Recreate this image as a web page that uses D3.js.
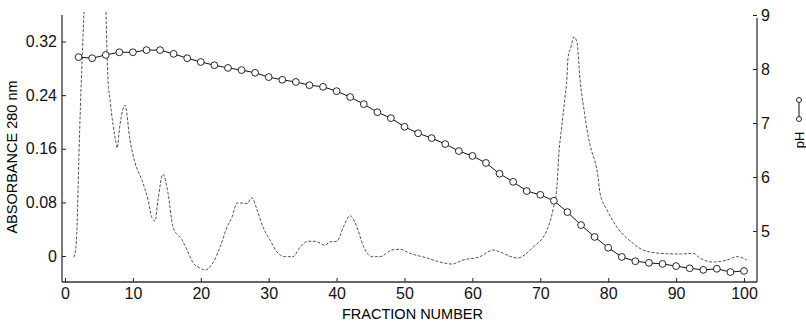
<!DOCTYPE html>
<html>
<head>
<meta charset="utf-8">
<script src="https://cdn.jsdelivr.net/npm/d3@7"></script>
<style>
  body { margin: 0; background: #fff; }
  svg { font-family: "Liberation Sans", Arial, sans-serif; }
  .axis text { font-size: 16px; fill: #111; }
  .axis line { stroke: #222; }
  .absLine { fill: none; stroke: #555; stroke-width: 1; stroke-dasharray: 3 1.6; }
  .phLine { fill: none; stroke: #111; stroke-width: 1; }
  .phDot { fill: #fff; stroke: #111; stroke-width: 0.9; }
</style>
</head>
<body>
<div id="chartdiv"></div>
<script>
//absorbance trace, null = off-scale gap at the top
var absFraction = [1.3, 1.6, 1.85, 1.95, 2.8, 4.4, 6.04, 6.33, 6.63, 7.07, 7.51, 7.66, 8.1, 8.84, 9.57,
  10.31, 11.34, 12.22, 12.81, 13.25, 13.7, 14.43, 15.17, 15.91, 17.23, 17.97, 18.85, 19.88, 20.62,
  21.8, 22.83, 23.86, 24.59, 25.33, 26.07, 26.8, 27.54, 28.28, 29.16, 30.19, 31.22, 32.4, 33.58,
  34.61, 35.79, 36.82, 38.29, 39.03, 40.06, 40.94, 41.97, 43.0, 43.89, 45.21, 46.39, 48.16, 49.34,
  50.81, 53.31, 55.23, 57.0, 58.62, 61.12, 63.03, 64.06, 66.57, 68.92, 70.99, 71.87, 72.46, 72.75,
  73.05, 73.34, 73.64, 73.93, 74.08, 74.52, 74.96, 75.4, 75.85, 76.44, 76.88, 77.32, 78.5, 78.79,
  79.82, 81.3, 83.65, 85.13, 87.6, 90.6, 92.5, 93.5, 95.4, 97.5, 99.0, 100.4];
var absValue = [-0.002, 0.012, 0.069, 0.11, 0.364, null, 0.364, 0.263, 0.233, 0.196, 0.169, 0.161, 0.196, 0.225, 0.173,
  0.139, 0.113, 0.084, 0.057, 0.052, 0.084, 0.122, 0.094, 0.043, 0.024, 0.009, -0.01, -0.018, -0.021,
  -0.01, 0.013, 0.043, 0.058, 0.079, 0.079, 0.078, 0.087, 0.069, 0.043, 0.024, 0.006, -0.001, -0.001,
  0.013, 0.022, 0.022, 0.016, 0.021, 0.022, 0.042, 0.06, 0.043, 0.016, -0.001, -0.001, 0.009, 0.01,
  0.004, -0.003, -0.009, -0.012, -0.006, -0.001, 0.009, 0.006, -0.003, 0.013, 0.039, 0.069, 0.106, 0.155,
  0.184, 0.21, 0.237, 0.267, 0.296, 0.312, 0.327, 0.319, 0.263, 0.218, 0.188, 0.166, 0.118, 0.094,
  0.069, 0.043, 0.019, 0.009, 0.004, 0.003, 0.004, -0.003, -0.009, -0.006, -0.001, -0.006];

//pH readings, every second fraction
var phFraction = [2, 4, 6, 8, 10, 12, 14, 16, 18, 20, 22, 24, 26, 28, 30, 32, 34, 36, 38, 40,
  42, 44, 46, 48, 50, 52, 54, 56, 58, 60, 62, 64, 66, 68, 70, 72, 74, 76, 78, 80,
  82, 84, 86, 88, 90, 92, 94, 96, 98, 100];
var phValue = [8.22, 8.2, 8.26, 8.31, 8.31, 8.35, 8.35, 8.28, 8.2, 8.13, 8.07, 8.02, 7.98, 7.93, 7.85, 7.8, 7.76, 7.7, 7.67, 7.59,
  7.48, 7.35, 7.2, 7.09, 6.93, 6.81, 6.72, 6.61, 6.48, 6.39, 6.26, 6.06, 5.91, 5.74, 5.67, 5.56, 5.35, 5.11, 4.89, 4.69,
  4.52, 4.44, 4.41, 4.39, 4.35, 4.31, 4.28, 4.3, 4.24, 4.26];

//tick labels
var fractionTicks = [0, 10, 20, 30, 40, 50, 60, 70, 80, 90, 100];
var absTicks = [0, 0.08, 0.16, 0.24, 0.32];
var phTicks = [5, 6, 7, 8, 9];

window.onload = setChart();

function setChart(){
  var width = 806, height = 321;
  //plot frame edges
  var frame = {left: 62, right: 757, top: 15, bottom: 282};

  var svg = d3.select("#chartdiv")
      .append("svg")
      .attr("width", width)
      .attr("height", height);

  var x = d3.scaleLinear().domain([0, 100]).range([65, 744]);
  var yAbs = d3.scaleLinear().domain([0, 0.32]).range([256, 41.5]);
  var yPh = d3.scaleLinear().domain([5, 9]).range([231, 15]);

  //frame lines
  svg.append("g").selectAll("line")
      .data([
        [frame.left, frame.top, frame.left, frame.bottom],
        [frame.left, frame.bottom, frame.right, frame.bottom],
        [frame.right, frame.top + 3, frame.right, frame.bottom]
      ])
      .enter()
      .append("line")
      .attr("x1", function(d){ return d[0]; })
      .attr("y1", function(d){ return d[1]; })
      .attr("x2", function(d){ return d[2]; })
      .attr("y2", function(d){ return d[3]; })
      .attr("stroke", "#333")
      .attr("stroke-width", 1.3);

  //axes, ticks point inward
  var xAxis = svg.append("g")
      .attr("class", "axis")
      .attr("transform", "translate(0," + frame.bottom + ")")
      .call(d3.axisBottom(x).tickValues(fractionTicks).tickSize(-4).tickPadding(6));

  var leftAxis = svg.append("g")
      .attr("class", "axis")
      .attr("transform", "translate(" + frame.left + ",0)")
      .call(d3.axisLeft(yAbs).tickValues(absTicks).tickSize(-4).tickPadding(5)
        .tickFormat(function(d){ return d === 0 ? "0" : d3.format(".2f")(d); }));

  var rightAxis = svg.append("g")
      .attr("class", "axis")
      .attr("transform", "translate(" + frame.right + ",0)")
      .call(d3.axisRight(yPh).tickValues(phTicks).tickSize(-4).tickPadding(4)
        .tickFormat(d3.format("d")));

  svg.selectAll(".axis .domain").remove();

  //axis titles
  svg.append("text")
      .attr("transform", "translate(" + ((frame.left + frame.right) / 2 + 3) + ",319)")
      .attr("text-anchor", "middle")
      .style("font-size", "14.5px")
      .text("FRACTION NUMBER");

  svg.append("text")
      .attr("transform", "translate(17,157) rotate(-90)")
      .attr("text-anchor", "middle")
      .style("font-size", "14.5px")
      .text("ABSORBANCE 280 nm");

  //pH legend key on the right
  var key = svg.append("g").attr("transform", "translate(799,0)");
  key.append("text")
      .attr("transform", "translate(5,140) rotate(-90)")
      .attr("text-anchor", "middle")
      .style("font-size", "13px")
      .text("pH");
  key.append("line")
      .attr("x1", 0).attr("x2", 0).attr("y1", 100).attr("y2", 119)
      .attr("stroke", "#111");
  key.selectAll("circle")
      .data([100, 119])
      .enter()
      .append("circle")
      .attr("class", "phDot")
      .attr("cx", 0)
      .attr("cy", function(d){ return d; })
      .attr("r", 2.5);

  //absorbance trace
  var absData = absFraction.map(function(f, i){ return {f: f, v: absValue[i]}; });
  var absLine = d3.line()
      .defined(function(d){ return d.v !== null; })
      .x(function(d){ return x(d.f); })
      .y(function(d){ return yAbs(d.v); })
      .curve(d3.curveMonotoneX);

  svg.append("path")
      .datum(absData)
      .attr("class", "absLine")
      .attr("d", absLine);

  //pH line with open circles
  var phData = phFraction.map(function(f, i){ return {f: f, v: phValue[i]}; });
  var phLine = d3.line()
      .x(function(d){ return x(d.f); })
      .y(function(d){ return yPh(d.v); });

  svg.append("path")
      .datum(phData)
      .attr("class", "phLine")
      .attr("d", phLine);

  svg.selectAll(".phDot.data")
      .data(phData)
      .enter()
      .append("circle")
      .attr("class", "phDot data")
      .attr("cx", function(d){ return x(d.f); })
      .attr("cy", function(d){ return yPh(d.v); })
      .attr("r", 3.4);
};
</script>
</body>
</html>
